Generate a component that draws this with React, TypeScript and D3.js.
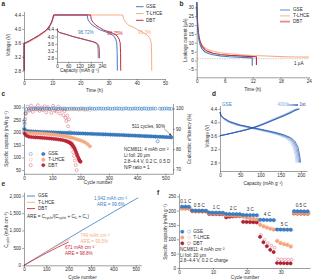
import React, { useRef, useEffect } from 'react';
import * as d3 from 'd3';

const FONT = '"Liberation Sans", Arial, sans-serif';
const INK = '#2b2b2b';
const BLUE = '#3b7fc4';
const ORANGE = '#f6ae86';
const RED = '#c8283c';
const FS = 4.6;

// ---------- a: voltage vs time, [h, V] ----------
const timeTicksA = [0, 10, 20, 30, 40, 50];
const voltTicks = [2.8, 3.2, 3.6, 4.0, 4.4];
const gseVoltTime = [
  [0, 2.8], [0, 3.58], [1, 3.62], [2, 3.66], [3.3, 3.72], [5, 3.8], [6.8, 3.9], [8, 3.97], [9.2, 4.1], [9.8, 4.2], [10.2, 4.3], [10.5, 4.4],
  [22.4, 4.4], [22.7, 4.26], [23.4, 4.18], [24.2, 4.11], [25.6, 4.04], [27, 3.97], [28.8, 3.92], [30.5, 3.87], [31.8, 3.8], [32.5, 3.71], [32.9, 3.6], [33.05, 3.3], [33.1, 2.8],
];
const dbtVoltTime = [
  [0, 2.8], [0, 3.58], [1, 3.62], [2, 3.66], [3.3, 3.72], [5, 3.8], [6.8, 3.9], [8, 3.97], [9.2, 4.1], [9.8, 4.2], [10.2, 4.3], [10.5, 4.4],
  [23.6, 4.4], [23.9, 4.26], [24.6, 4.18], [25.4, 4.11], [26.8, 4.04], [28.2, 3.97], [30, 3.92], [31.7, 3.87], [33, 3.8], [33.7, 3.71], [34.1, 3.6], [34.25, 3.3], [34.3, 2.8],
];
const tlhceVoltTime = [
  [0, 2.8], [0, 3.55], [1, 3.59], [2, 3.63], [3.3, 3.69], [5, 3.77], [6.8, 3.87], [8, 3.94], [9.2, 4.06], [9.9, 4.18], [10.4, 4.3], [10.7, 4.4],
  [35, 4.4], [35.4, 4.27], [36.2, 4.17], [37.2, 4.1], [38.8, 4.05], [40.3, 3.98], [41.7, 3.92], [43, 3.86], [44, 3.8], [44.7, 3.72], [45.1, 3.6], [45.25, 3.3], [45.3, 2.8],
];
// inset: discharge curves, [mAh g-1, V]
const insetCapTicks = [0, 60, 120, 180, 240];
const gseInset = [[0, 4.4], [4, 4.3], [14, 4.22], [48, 4.12], [88, 3.99], [122, 3.9], [158, 3.8], [188, 3.72], [207, 3.64], [216, 3.52], [219, 3.3], [220, 2.8]];
const tlhceInset = [[0, 4.4], [4, 4.31], [14, 4.23], [48, 4.13], [88, 4.0], [122, 3.91], [158, 3.81], [189, 3.73], [209, 3.65], [219, 3.53], [222, 3.3], [223, 2.8]];
const dbtInset = [[0, 4.4], [4, 4.3], [14, 4.22], [48, 4.12], [88, 3.99], [123, 3.9], [160, 3.8], [191, 3.72], [212, 3.64], [222, 3.52], [226, 3.3], [227, 2.8]];
const retention = ['98.72%', '98.25%', '95.3%'];

// ---------- b: leakage current, [h, uA] ----------
const timeTicksB = [0, 6, 12, 18, 24];
const leakTicks = [-5, 0, 5, 10, 15, 20, 25, 30];
const gseLeak = [[0, 33], [0.1, 25], [0.25, 17], [0.5, 11.5], [0.8, 8.3], [1.2, 6.3], [1.8, 4.8], [2.5, 3.9], [3.5, 3.2], [5, 2.6], [7, 2.1], [9, 1.8], [11.9, 1.5], [11.9, -3]];
const dbtLeak = [[0, 33], [0.1, 26], [0.25, 19], [0.5, 13], [0.8, 10], [1.2, 7.8], [1.8, 6], [2.5, 5], [3.5, 4.1], [5, 3.4], [7, 2.9], [9, 2.6], [11, 2.3], [12.8, 2.1], [12.8, -2.5]];
const tlhceLeak = [[0, 30], [0.1, 24], [0.25, 18], [0.5, 13.5], [0.8, 10.5], [1.2, 8.6], [1.8, 7], [2.5, 6], [3.5, 5.2], [5, 4.4], [7, 3.8], [9, 3.3], [12, 2.8], [15, 2.5], [18, 2.2], [21, 2.0], [24, 1.9]];

// ---------- c: long cycling ----------
const cycleTicksC = [0, 100, 200, 300, 400, 500];
const capTicksC = [50, 100, 150, 200, 250, 300];
const ceTicks = [70, 80, 90, 100];
const stepC = 8;
// GSE, every 8th cycle from cycle 1
const gseCapC = [
  212, 206.2, 204.8, 204.1, 203.6, 203.0, 202.7, 202.1, 201.9, 201.4,
  201.2, 200.7, 200.5, 200.0, 199.8, 199.4, 199.1, 198.7, 198.5, 198.0,
  197.8, 197.3, 197.1, 196.6, 196.4, 196.0, 195.7, 195.2, 195.0, 194.6,
  194.3, 193.8, 193.6, 193.1, 192.9, 192.4, 192.1, 191.7, 191.4, 190.9,
  190.7, 190.2, 189.9, 189.5, 189.2, 188.7, 188.4, 188.0, 187.6, 187.1,
  186.8, 186.4, 186.0, 185.5, 185.2, 184.7, 184.4, 183.9, 183.5, 183.0,
  182.7, 182.2, 181.8, 181.3, 180.8, 180.3,
];
const gseCeEarly = [[1, 90.4], [2, 92.3], [3, 94.6], [5, 97.6]];
// GSE CE, every 8th cycle from cycle 9
const gseCe = [
  99.6, 99.8, 99.9, 99.8, 100.0, 99.9, 99.8, 99.9, 100.0, 99.9,
  99.8, 99.9, 100.1, 99.9, 99.8, 99.9, 100.0, 99.9, 99.8, 99.9,
  100.0, 99.9, 99.9, 99.8, 100.0, 99.9, 99.8, 99.9, 100.1, 99.9,
  99.8, 99.9, 100.0, 99.9, 99.9, 99.8, 100.0, 99.9, 99.8, 99.9,
  100.0, 99.9, 99.8, 99.9, 100.1, 99.9, 99.8, 99.9, 100.0, 99.9,
  99.9, 99.8, 100.0, 99.9, 99.8, 99.9, 100.0, 99.9, 83.8, 99.9,
  99.8, 99.9, 100.0, 99.9, 99.8,
];
// T-LHCE, every 8th cycle from cycle 1
const tlhceCapC = [
  200.5, 198.6, 198.1, 197.8, 197.4, 197.1, 196.7, 196.2, 195.6, 195.0,
  194.2, 193.4, 192.5, 191.5, 190.4, 189.2, 187.9, 186.4, 184.8, 183.0,
  181.0, 178.8, 176.3, 173.6, 170.6, 167.6, 164.2, 159.6, 153.0, 145.0,
];
const tlhceCeEarly = [[1, 88.2], [3, 93.6], [5, 96.1]];
const tlhceCe = [
  97.9, 98.8, 99.3, 99.5, 99.6, 99.4, 99.7, 99.5, 99.6, 99.8,
  99.5, 99.7, 99.6, 99.4, 99.7, 99.6, 99.5, 99.7, 99.6, 99.4,
  99.6, 99.5, 99.7, 99.3, 99.5, 99.6, 99.2, 99.4, 99.1,
];
// DBT, [cycle, value]
const dbtCapC = [
  [3, 194], [9, 187], [17, 183.2], [25, 181.6], [33, 181.0], [41, 180.4], [49, 179.8], [57, 179.1], [65, 178.5], [73, 177.8],
  [81, 177.0], [89, 176.2], [97, 175.4], [105, 174.5], [113, 173.4], [121, 172.2], [129, 170.9], [137, 169.2], [145, 167.1], [151, 165.0],
  [156, 162.6], [160, 160.2], [164, 157.3], [167, 154.6], [170, 151.2], [173, 147.0], [176, 141.8], [179, 135.5], [182, 128.2], [185, 120],
  [188, 111], [191, 102], [194, 94], [196, 89], [198, 85], [200, 83],
];
const dbtCeC = [
  [1, 93.2], [7, 97.5], [13, 100.9], [19, 99.1], [25, 101.4], [31, 98.3], [37, 100.3], [43, 99.6], [49, 101.6], [55, 98.8],
  [61, 100.5], [67, 99.2], [73, 101.1], [79, 98.1], [85, 100.7], [91, 99.7], [97, 97.8], [103, 101.3], [109, 99.0], [115, 98.4],
  [121, 100.9], [127, 97.5], [133, 99.4], [139, 96.6], [143, 98.7], [147, 95.4], [150, 93.8], [153, 96.5], [156, 91.2], [159, 94.6],
  [162, 88.4], [165, 85.6], [168, 83.1], [171, 80.9], [174, 78.5], [177, 76.6], [180, 74.4], [183, 72.1], [186, 69.6],
];
const cellNames = ['GSE', 'T-LHCE', 'DBT'];
const notesC = ['NCM811: 4 mAh cm⁻²', 'Li foil: 20 μm', '2.8–4.4 V, 0.2 C, 0.5 D', 'N/P ratio = 1'];

// ---------- d: GSE voltage profiles over cycling ----------
const capTicksD = [0, 50, 100, 150, 200];
const dischargeV = [4.3, 4.2, 4.12, 4.02, 3.92, 3.84, 3.77, 3.69, 3.62, 3.54, 3.44, 3.25, 3.0, 2.8];
const chargeV = [3.6, 3.65, 3.73, 3.83, 3.95, 4.1, 4.2, 4.28, 4.36, 4.4];
// capacity at each voltage above, 400th (light) to 1st (dark)
const dischargeCap = [
  [0, 2, 6, 17, 38, 68, 95, 124, 144, 160, 172, 181, 186, 188],
  [0, 2, 7, 19, 41, 72, 99, 128, 148, 164, 176, 184, 189, 191],
  [0, 2, 8, 21, 44, 75, 103, 132, 152, 168, 179, 187, 192, 194],
  [0, 3, 9, 23, 47, 78, 106, 136, 156, 172, 182, 190, 195, 197],
  [0, 3, 10, 25, 50, 82, 110, 140, 160, 175, 185, 193, 197, 199],
];
const chargeCap = [
  [0, 18, 45, 76, 103, 132, 152, 167, 180, 189],
  [0, 19, 46, 77, 105, 134, 154, 169, 182, 191],
  [0, 19, 47, 79, 106, 136, 156, 171, 184, 193],
  [0, 20, 49, 80, 108, 138, 158, 173, 186, 195],
  [0, 20, 50, 82, 110, 140, 160, 175, 188, 197],
];
const cycleShades = ['#b4cdef', '#8cb0e4', '#6690d6', '#416fc5', '#1f4aa8'];

// ---------- e: cumulative capacity, [cycle, mAh cm-2] ----------
const cycleTicksE = [0, 100, 200, 300, 400, 500];
const cumTicks = [0, 500, 1000, 1500, 2000];
const gseCum = [[0, 0], [100, 392], [200, 778], [300, 1158], [400, 1532], [511, 1942]];
const tlhceCum = [[0, 0], [50, 192], [100, 380], [150, 565], [205, 749]];
const dbtCum = [[0, 0], [50, 180], [100, 352], [150, 515], [200, 671]];
const cumLabels = [['1,942 mAh cm⁻²', 'ARE = 99.6%'], ['749 mAh cm⁻²', 'ARE = 99.5%'], ['671 mAh cm⁻²', 'ARE = 98.8%']];

// ---------- f: rate capability ----------
const cycleTicksF = [0, 10, 20, 30];
const capTicksF = [0, 50, 100, 150, 200, 250];
const rateLabels = ['0.1 C', '0.5 C', '1 C', '2 C', '3 C', '4 C', '5 C', '0.5 C'];
const rateStart = [1, 4, 9, 14, 19, 24, 29, 34];
const rateEnd = [3, 8, 13, 18, 23, 28, 33, 38];
const gseDisF = [214.2, 214.0, 213.6, 200.6, 200.2, 200.0, 199.8, 199.7, 193.5, 193.2, 193.0, 192.8, 192.7, 188.6, 188.2, 188.0, 187.8, 187.7, 185.0, 184.6, 184.4, 184.2, 184.0, 168.2, 167.8, 167.5, 167.2, 167.0, 134.2, 134.0, 133.8, 133.6, 133.4, 198.2, 197.9, 197.7, 197.5, 197.3];
const gseChgF = [212.5, 212.6, 212.3, 199.4, 199.1, 198.9, 198.8, 198.6, 192.4, 192.2, 192.0, 191.8, 191.7, 187.6, 187.3, 187.1, 186.9, 186.8, 184.0, 183.7, 183.5, 183.3, 183.1, 167.2, 166.8, 166.5, 166.3, 166.1, 133.2, 133.0, 132.8, 132.6, 132.5, 197.1, 196.9, 196.7, 196.5, 196.3];
const tlhceDisF = [206.5, 207.0, 206.8, 198.8, 198.4, 198.2, 198.0, 197.8, 190.2, 189.8, 189.5, 189.3, 189.1, 183.2, 183.0, 182.7, 182.5, 182.3, 178.0, 175.2, 172.8, 170.7, 168.9, 150.5, 144.8, 140.2, 136.5, 133.4, 93.8, 86.5, 82.6, 80.1, 74.2, 190.8, 190.5, 190.3, 190.1, 189.9];
const tlhceChgF = [207.5, 207.8, 207.6, 199.6, 199.2, 199.0, 198.8, 198.6, 191.0, 190.6, 190.3, 190.1, 189.9, 184.0, 183.8, 183.5, 183.3, 183.1, 179.8, 177.0, 174.6, 172.5, 170.6, 153.8, 147.6, 143.0, 139.1, 135.9, 97.0, 89.5, 86.2, 83.8, 77.0, 191.6, 191.3, 191.1, 190.9, 190.7];
const dbtDisF = [208.0, 207.8, 207.5, 197.9, 197.5, 197.3, 197.1, 196.9, 188.3, 187.9, 187.6, 187.4, 187.2, 176.5, 178.6, 179.8, 180.5, 180.9, 160.8, 160.2, 159.8, 159.5, 159.1, 108.5, 89.6, 75.8, 63.2, 55.4, 17.2, 16.8, 16.5, 16.3, 16.1, 189.8, 189.6, 189.3, 189.1, 188.9];
const dbtChgF = [208.8, 208.6, 208.3, 198.6, 198.2, 198.0, 197.8, 197.6, 189.0, 188.6, 188.3, 188.1, 187.9, 177.4, 179.4, 180.6, 181.3, 181.7, 161.6, 161.0, 160.6, 160.3, 159.9, 115.4, 98.2, 87.1, 78.3, 70.6, 30.4, 30.1, 29.8, 29.6, 29.4, 190.6, 190.4, 190.1, 189.9, 189.7];
const notesF = ['NCM811: 4 mAh cm⁻²', 'Li foil: 20 μm', '2.8–4.4 V, 0.2 C charge'];

// filled marker shape
const hexagon = {
  draw(ctx, size) {
    const r = Math.sqrt(size / 2.598);
    for (let i = 0; i < 6; i++) {
      const a = (Math.PI / 3) * i + Math.PI / 6;
      if (i === 0) ctx.moveTo(r * Math.cos(a), r * Math.sin(a));
      else ctx.lineTo(r * Math.cos(a), r * Math.sin(a));
    }
    ctx.closePath();
  },
};
const hexPath = d3.symbol().type(hexagon as any).size(8.5)();

const Axis = ({ scale, side, x = 0, y = 0, ticks, format }: any) => {
  const ref = useRef<SVGGElement>(null);
  useEffect(() => {
    const axis = side === 'left' ? d3.axisLeft(scale) : side === 'right' ? d3.axisRight(scale) : d3.axisBottom(scale);
    axis.tickValues(ticks).tickSizeInner(1.8).tickSizeOuter(0).tickPadding(1.1);
    if (format) axis.tickFormat(format);
    const g = d3.select(ref.current).call(axis as any);
    g.attr('font-size', FS).attr('font-family', FONT);
    g.selectAll('.domain, .tick line').attr('stroke', INK).attr('stroke-width', 0.45);
    g.selectAll('.tick text').attr('fill', INK);
  }, []);
  return <g ref={ref} transform={`translate(${x},${y})`} />;
};

const T = ({ x, y, children, anchor = 'start', fill = INK, size = FS, rotate = false, weight = 'normal' }: any) => (
  <text x={x} y={y} fontSize={size} fill={fill} fontFamily={FONT} textAnchor={anchor} dominantBaseline="middle"
    fontWeight={weight} transform={rotate ? `rotate(-90 ${x} ${y})` : undefined}>{children}</text>
);

const Letter = ({ x, y, children }: any) => <T x={x} y={y} size={6.5} weight="bold">{children}</T>;

const fmt1 = d3.format('.1f');

const PanelA = () => {
  const x = d3.scaleLinear().domain([0, 50]).range([24, 165]);
  const y = d3.scaleLinear().domain([2.56, 4.5]).range([79, 11.5]);
  const line = d3.line<number[]>().x(d => x(d[0])).y(d => y(d[1]));
  const ix = d3.scaleLinear().domain([0, 240]).range([57, 102]);
  const iy = d3.scaleLinear().domain([2.6, 4.5]).range([61.9, 27.5]);
  const iline = d3.line<number[]>().x(d => ix(d[0])).y(d => iy(d[1]));
  const series = [[tlhceVoltTime, ORANGE], [gseVoltTime, BLUE], [dbtVoltTime, RED]];
  const inset = [[tlhceInset, ORANGE], [gseInset, BLUE], [dbtInset, RED]];
  const legendColors = [BLUE, ORANGE, RED];
  const pctPos = [[78, 32.3, BLUE], [107, 33.3, RED], [138, 33, ORANGE]];
  return (
    <g>
      <Letter x={1.5} y={4}>a</Letter>
      {series.map(([d, c]: any, i) => <path key={i} d={line(d)} fill="none" stroke={c} strokeWidth={1} />)}
      <Axis scale={x} side="bottom" y={79} ticks={timeTicksA} />
      <Axis scale={y} side="left" x={24} ticks={voltTicks} format={fmt1} />
      <T x={94.5} y={90.5} anchor="middle">Time (h)</T>
      <T x={9} y={45} anchor="middle" rotate>Voltage (V)</T>
      {inset.map(([d, c]: any, i) => <path key={i} d={iline(d)} fill="none" stroke={c} strokeWidth={0.8} />)}
      <Axis scale={ix} side="bottom" y={61.9} ticks={insetCapTicks} />
      <Axis scale={iy} side="left" x={57} ticks={voltTicks} format={fmt1} />
      <T x={79.5} y={71} anchor="middle">Capacity (mAh g⁻¹)</T>
      {pctPos.map(([px, py, c]: any, i) => <T key={i} x={px} y={py} fill={c}>{retention[i]}</T>)}
      {cellNames.map((n, i) => (
        <g key={n}>
          <line x1={136} x2={143.5} y1={6.7 + i * 6.8} y2={6.7 + i * 6.8} stroke={legendColors[i]} strokeWidth={1} />
          <T x={146} y={6.9 + i * 6.8}>{n}</T>
        </g>
      ))}
    </g>
  );
};

const PanelB = () => {
  const x = d3.scaleLinear().domain([0, 24]).range([196.7, 308.7]);
  const y = d3.scaleLinear().domain([-9.5, 33]).range([77.3, 2.1]);
  const line = d3.line<number[]>().x(d => x(d[0])).y(d => y(d[1]));
  const series = [[tlhceLeak, ORANGE], [dbtLeak, RED], [gseLeak, BLUE]];
  const legendColors = ['#9cc2e8', '#fbd3bd', '#e58a95'];
  return (
    <g>
      <Letter x={179.5} y={4}>b</Letter>
      <line x1={x(0)} x2={x(24)} y1={y(1)} y2={y(1)} stroke="#777" strokeWidth={0.5} strokeDasharray="0.8,0.9" />
      {series.map(([d, c]: any, i) => <path key={i} d={line(d)} fill="none" stroke={c} strokeWidth={1.1} strokeLinejoin="round" />)}
      <Axis scale={x} side="bottom" y={77.3} ticks={timeTicksB} />
      <Axis scale={y} side="left" x={196.7} ticks={leakTicks} />
      <T x={294} y={y(1) + 5}>1 μA</T>
      <T x={252.7} y={90} anchor="middle">Time (h)</T>
      <T x={185.5} y={40} anchor="middle" rotate>Leakage current (μA)</T>
      {cellNames.map((n, i) => (
        <g key={n}>
          <line x1={280} x2={290} y1={10 + i * 5.8} y2={10 + i * 5.8} stroke={legendColors[i]} strokeWidth={1.8} />
          <T x={293} y={10.2 + i * 5.8}>{n}</T>
        </g>
      ))}
    </g>
  );
};

const Hollow = ({ cx, cy, c, r = 1.5, w = 0.45 }: any) => <circle cx={cx} cy={cy} r={r} fill="none" stroke={c} strokeWidth={w} />;
const Filled = ({ cx, cy, c, s }: any) => <path d={hexPath} transform={`translate(${cx},${cy})`} fill={c} stroke={s} strokeWidth={0.35} />;

const PanelC = () => {
  const x = d3.scaleLinear().domain([0, 527]).range([24, 173]);
  const yL = d3.scaleLinear().domain([35, 315]).range([173.8, 103.6]);
  const yR = d3.scaleLinear().domain([67.8, 102.4]).range([173.8, 103.6]);
  const gseCe2 = gseCeEarly.concat(gseCe.map((v, i) => [9 + stepC * i, v]));
  const tlhceCe2 = tlhceCeEarly.concat(tlhceCe.map((v, i) => [9 + stepC * i, v]));
  const gseCap2 = gseCapC.map((v, i) => [1 + stepC * i, v]);
  const tlhceCap2 = tlhceCapC.map((v, i) => [1 + stepC * i, v]);
  return (
    <g>
      <Letter x={1.5} y={94}>c</Letter>
      {tlhceCe2.map((d, i) => <Hollow key={'tc' + i} cx={x(d[0])} cy={yR(d[1])} c={ORANGE} />)}
      {dbtCeC.map((d, i) => <Hollow key={'dc' + i} cx={x(d[0])} cy={yR(d[1])} c="#d5505f" />)}
      {gseCe2.map((d, i) => <Hollow key={'gc' + i} cx={x(d[0])} cy={yR(d[1])} c={BLUE} w={0.6} />)}
      {gseCap2.map((d, i) => <Filled key={'gk' + i} cx={x(d[0])} cy={yL(d[1])} c={BLUE} s="#1f5da6" />)}
      {tlhceCap2.map((d, i) => <Filled key={'tk' + i} cx={x(d[0])} cy={yL(d[1])} c={ORANGE} s="#ef9a6c" />)}
      {dbtCapC.map((d, i) => <Filled key={'dk' + i} cx={x(d[0])} cy={yL(d[1])} c={RED} s="#9e1528" />)}
      <Axis scale={x} side="bottom" y={173.8} ticks={cycleTicksC} />
      <Axis scale={yL} side="left" x={24} ticks={capTicksC} />
      <Axis scale={yR} side="right" x={173} ticks={ceTicks} />
      <T x={98} y={182.3} anchor="middle">Cycle number</T>
      <T x={7} y={139} anchor="middle" rotate>Specific capacity (mAh g⁻¹)</T>
      <T x={190} y={139} anchor="middle" rotate>Coulombic efficiency (%)</T>
      <T x={165} y={126.3} anchor="end">511 cycles, 90%</T>
      <line x1={164} y1={128.6} x2={170.6} y2={134.8} stroke={INK} strokeWidth={0.45} />
      <path d="M171.8,136 L168.9,134.9 L170.4,133.3 Z" fill={INK} />
      {notesC.map((t, i) => <T key={t} x={124} y={149.5 + i * 6}>{t}</T>)}
      {cellNames.map((n, i) => {
        const c = [BLUE, ORANGE, RED][i];
        const s = ['#1f5da6', '#ef9a6c', '#9e1528'][i];
        const ly = 154 + i * 5.6;
        return (
          <g key={n}>
            <Hollow cx={30.7} cy={ly} c={i === 2 ? '#d5505f' : c} r={1.6} />
            <Filled cx={43.3} cy={ly} c={c} s={s} />
            <T x={48.3} y={ly + 0.2}>{n}</T>
          </g>
        );
      })}
    </g>
  );
};

const PanelD = () => {
  const x = d3.scaleLinear().domain([0, 215]).range([220, 307]);
  const y = d3.scaleLinear().domain([2.55, 4.5]).range([171, 105.5]);
  const line = d3.line<number[]>().x(d => x(d[0])).y(d => y(d[1])).curve(d3.curveMonotoneX);
  const lineY = d3.line<number[]>().x(d => x(d[0])).y(d => y(d[1]));
  return (
    <g>
      <Letter x={212} y={94}>d</Letter>
      <defs>
        <linearGradient id="cycleGrad" x1="0" x2="1" y1="0" y2="0">
          <stop offset="0" stopColor={cycleShades[0]} />
          <stop offset="1" stopColor={cycleShades[4]} />
        </linearGradient>
      </defs>
      {cycleShades.map((c, k) => (
        <g key={c}>
          <path d={line(chargeCap[k].map((v, i) => [v, chargeV[i]]))} fill="none" stroke={c} strokeWidth={0.7} />
          <path d={lineY(dischargeCap[k].map((v, i) => [v, dischargeV[i]]))} fill="none" stroke={c} strokeWidth={0.7} strokeLinejoin="round" />
        </g>
      ))}
      <Axis scale={x} side="bottom" y={171} ticks={capTicksD} />
      <Axis scale={y} side="left" x={220} ticks={voltTicks} format={fmt1} />
      <T x={263} y={183.3} anchor="middle">Capacity (mAh g⁻¹)</T>
      <T x={207.5} y={136} anchor="middle" rotate>Voltage (V)</T>
      <T x={222} y={105} fill={BLUE}>GSE</T>
      <T x={277.5} y={105} fill={cycleShades[1]}>400th</T>
      <rect x={287} y={104.3} width={11} height={1.4} fill="url(#cycleGrad)" />
      <T x={299.5} y={105} fill={cycleShades[4]}>1st</T>
    </g>
  );
};

const PanelE = () => {
  const x = d3.scaleLinear().domain([0, 525]).range([24, 141.3]);
  const y = d3.scaleLinear().domain([0, 2100]).range([265.3, 192.2]);
  const line = d3.line<number[]>().x(d => x(d[0])).y(d => y(d[1]));
  const series = [[gseCum, BLUE], [tlhceCum, ORANGE], [dbtCum, RED]];
  const legendColors = [BLUE, ORANGE, RED];
  const labelPos = [[94, 199, BLUE], [80.5, 236, ORANGE], [65, 247.3, RED]];
  const sub = 3.3;
  return (
    <g>
      <Letter x={1.5} y={184}>e</Letter>
      {series.map(([d, c]: any, i) => <path key={i} d={line(d)} fill="none" stroke={c} strokeWidth={0.8} />)}
      <Axis scale={x} side="bottom" y={265.3} ticks={cycleTicksE} />
      <Axis scale={y} side="left" x={24} ticks={cumTicks} format={d3.format(',')} />
      <T x={82.5} y={277.3} anchor="middle">Cycle number</T>
      <text x={7} y={230} fontSize={FS} fill={INK} fontFamily={FONT} textAnchor="middle" dominantBaseline="middle" transform="rotate(-90 7 230)">
        C<tspan fontSize={sub} dy={1}>cycle</tspan><tspan dy={-1}> (mAh cm⁻²)</tspan>
      </text>
      {cellNames.map((n, i) => (
        <g key={n}>
          <line x1={27} x2={35} y1={196 + i * 6.3} y2={196 + i * 6.3} stroke={legendColors[i]} strokeWidth={0.9} />
          <T x={38} y={196.2 + i * 6.3}>{n}</T>
        </g>
      ))}
      <text x={27} y={216.7} fontSize={FS} fill={INK} fontFamily={FONT} dominantBaseline="middle">
        ARE = C<tspan fontSize={sub} dy={1}>cycle</tspan><tspan dy={-1}>/(C</tspan><tspan fontSize={sub} dy={1}>cycle</tspan>
        <tspan dy={-1}> + C</tspan><tspan fontSize={sub} dy={1}>Li</tspan><tspan dy={-1}> + C</tspan><tspan fontSize={sub} dy={1}>c</tspan><tspan dy={-1}>)</tspan>
      </text>
      {labelPos.map(([lx, ly, c]: any, i) => (
        <g key={i}>
          <T x={lx} y={ly} fill={c}>{cumLabels[i][0]}</T>
          <T x={lx + (i === 0 ? 3 : 0)} y={ly + 6} fill={c}>{cumLabels[i][1]}</T>
        </g>
      ))}
    </g>
  );
};

const PanelF = () => {
  const x = d3.scaleLinear().domain([0, 38.6]).range([179, 310]);
  const y = d3.scaleLinear().domain([0, 260]).range([268, 193.4]);
  const cyc = (i: number) => x(i + 1);
  const groups = [
    [dbtChgF, dbtDisF, '#d5505f', '#b51f35', '#8c1223'],
    [tlhceChgF, tlhceDisF, ORANGE, '#f5a57a', '#ea9366'],
    [gseChgF, gseDisF, '#5d9bd8', BLUE, '#1f5da6'],
  ];
  return (
    <g>
      <Letter x={157} y={193}>f</Letter>
      {groups.map(([chg, dis, hc, fc, sc]: any, g) => (
        <g key={g}>
          {chg.map((v: number, i: number) => <Hollow key={'h' + i} cx={cyc(i) + 0.6} cy={y(v)} c={hc} r={1.4} />)}
          {dis.map((v: number, i: number) => <Filled key={'f' + i} cx={cyc(i) - 0.4} cy={y(v)} c={fc} s={sc} />)}
        </g>
      ))}
      {rateLabels.map((r, i) => {
        const top = d3.max(gseDisF.slice(rateStart[i] - 1, rateEnd[i])) as number;
        return <T key={i} x={x((rateStart[i] + rateEnd[i]) / 2)} y={y(top) - 5} anchor="middle">{r}</T>;
      })}
      <Axis scale={x} side="bottom" y={268} ticks={cycleTicksF} />
      <Axis scale={y} side="left" x={179} ticks={capTicksF} />
      <T x={245} y={277.7} anchor="middle">Cycle number</T>
      <T x={165.5} y={232} anchor="middle" rotate>Specific capacity (mAh g⁻¹)</T>
      {cellNames.map((n, i) => {
        const ly = 231.7 + i * 5.8;
        const c = [BLUE, '#f5a57a', '#b51f35'][i];
        const s = ['#1f5da6', '#ea9366', '#8c1223'][i];
        const h = ['#5d9bd8', ORANGE, '#d5505f'][i];
        return (
          <g key={n}>
            <Filled cx={182.3} cy={ly} c={c} s={s} />
            <Hollow cx={189} cy={ly} c={h} r={1.5} />
            <T x={193.3} y={ly + 0.2}>{n}</T>
          </g>
        );
      })}
      {notesF.map((t, i) => <T key={t} x={180} y={250 + i * 5.6}>{t}</T>)}
    </g>
  );
};

export default function App() {
  return (
    <svg width={312} height={280} style={{ position: 'absolute', left: 0, top: 0, background: '#fff' }}>
      <PanelA />
      <PanelB />
      <PanelC />
      <PanelD />
      <PanelE />
      <PanelF />
    </svg>
  );
}
